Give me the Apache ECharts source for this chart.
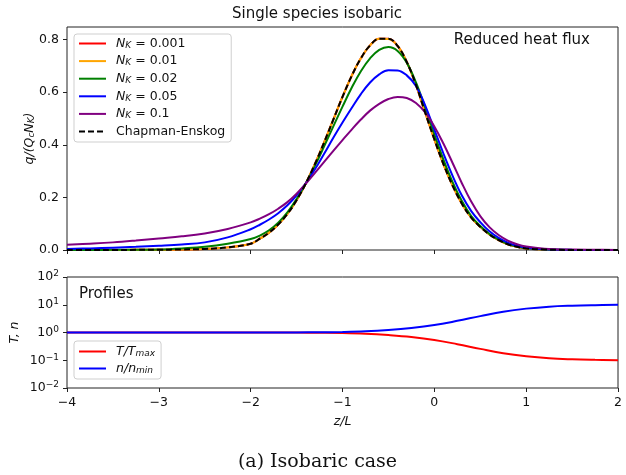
<!DOCTYPE html>
<html>
<head>
<meta charset="utf-8">
<script src="https://cdn.jsdelivr.net/npm/echarts@6/dist/echarts.min.js"></script>
<style>
  html, body { margin: 0; padding: 0; background: #fff; }
  #chart { width: 626px; height: 475px; }
</style>
</head>
<body>
<div id="chart"></div>
<script>
// Position along the domain (z/L) where the heat flux curves are sampled
const zFlux = [-4, -3.75, -3.5, -3.25, -3, -2.75, -2.5, -2.25,
  -2, -1.9, -1.8, -1.7, -1.6, -1.5, -1.4, -1.3, -1.2, -1.1, -1.0,
  -0.9, -0.8, -0.7, -0.6, -0.5, -0.4, -0.3, -0.2, -0.1, 0,
  0.1, 0.2, 0.3, 0.4, 0.5, 0.6, 0.7, 0.8, 0.9, 1.0,
  1.2, 1.5, 1.75, 2];

// Reduced heat flux q/(Qc NK) for each Knudsen number
const qNk0001 = [0, 0, 0.0002, 0.0005, 0.001, 0.002, 0.004, 0.010,
  0.024, 0.043, 0.066, 0.097, 0.137, 0.189, 0.253, 0.327, 0.409, 0.496, 0.582,
  0.662, 0.729, 0.778, 0.803, 0.803, 0.776, 0.715, 0.628, 0.523, 0.421,
  0.326, 0.244, 0.176, 0.124, 0.088, 0.059, 0.038, 0.022, 0.012, 0.006,
  0.002, 0.0003, 0.0001, 0];
const qNk001 = [0, 0, 0.0002, 0.0005, 0.001, 0.002, 0.004, 0.010,
  0.024, 0.043, 0.066, 0.097, 0.137, 0.189, 0.253, 0.327, 0.409, 0.496, 0.582,
  0.662, 0.729, 0.778, 0.803, 0.802, 0.776, 0.715, 0.628, 0.523, 0.421,
  0.326, 0.244, 0.176, 0.124, 0.088, 0.059, 0.038, 0.022, 0.012, 0.006,
  0.002, 0.0003, 0.0001, 0];
const qNk002 = [0, 0.0002, 0.0005, 0.001, 0.002, 0.006, 0.012, 0.024,
  0.042, 0.055, 0.075, 0.104, 0.143, 0.194, 0.253, 0.320, 0.394, 0.470, 0.545,
  0.617, 0.680, 0.729, 0.761, 0.772, 0.757, 0.712, 0.637, 0.542, 0.440,
  0.343, 0.257, 0.186, 0.130, 0.091, 0.061, 0.039, 0.023, 0.013, 0.007,
  0.002, 0.0004, 0.0001, 0];
const qNk005 = [0.004, 0.006, 0.009, 0.012, 0.016, 0.021, 0.029, 0.048,
  0.079, 0.096, 0.116, 0.140, 0.170, 0.208, 0.254, 0.307, 0.366, 0.427, 0.485,
  0.540, 0.593, 0.637, 0.668, 0.684, 0.683, 0.664, 0.624, 0.550, 0.458,
  0.366, 0.281, 0.207, 0.149, 0.106, 0.071, 0.046, 0.028, 0.016, 0.009,
  0.003, 0.0006, 0.0002, 0.0001];
const qNk01 = [0.020, 0.024, 0.029, 0.036, 0.044, 0.052, 0.063, 0.080,
  0.105, 0.119, 0.136, 0.157, 0.182, 0.214, 0.252, 0.293, 0.335, 0.377, 0.418,
  0.458, 0.496, 0.530, 0.556, 0.574, 0.582, 0.578, 0.559, 0.523, 0.470,
  0.404, 0.330, 0.254, 0.185, 0.129, 0.087, 0.057, 0.036, 0.022, 0.013,
  0.005, 0.0015, 0.0007, 0.0003];
const qChapmanEnskog = [0, 0, 0.0002, 0.0005, 0.001, 0.002, 0.004, 0.010,
  0.024, 0.043, 0.066, 0.097, 0.137, 0.189, 0.253, 0.327, 0.409, 0.496, 0.582,
  0.662, 0.729, 0.778, 0.803, 0.803, 0.776, 0.715, 0.628, 0.523, 0.421,
  0.326, 0.244, 0.176, 0.124, 0.088, 0.059, 0.038, 0.022, 0.012, 0.006,
  0.002, 0.0003, 0.0001, 0];

// Temperature and density profiles
const zProfile = [-4, -3, -2, -1.5, -1.25, -1, -0.75, -0.5, -0.25, 0,
  0.25, 0.5, 0.75, 1.0, 1.25, 1.5, 1.75, 2];
const tOverTmax = [1, 1, 0.999, 0.993, 0.982, 0.96, 0.905, 0.81, 0.69, 0.54,
  0.38, 0.257, 0.178, 0.138, 0.117, 0.108, 0.1035, 0.101];
const nOverNmin = [1, 1, 1.001, 1.007, 1.018, 1.045, 1.105, 1.23, 1.45, 1.85,
  2.63, 3.89, 5.62, 7.25, 8.55, 9.26, 9.66, 9.9];

// Tick positions
const zTicks = [-4, -3, -2, -1, 0, 1, 2];
const qTicks = [0, 0.2, 0.4, 0.6, 0.8];
const logTicks = [0.01, 0.1, 1, 10, 100];

const FONT = 'DejaVu Sans';
const INK = '#111';

const pairs = (xs, ys) => xs.map((x, i) => [x, ys[i]]);
const minus = v => (v < 0 ? '\u2212' + (-v) : String(v));

const mathRich = {
  r: { fontFamily: FONT, fontSize: 12.5, color: INK },
  it: { fontFamily: FONT, fontSize: 12.5, fontStyle: 'italic', color: INK },
  sub: { fontFamily: FONT, fontSize: 9, fontStyle: 'italic', color: INK, verticalAlign: 'bottom', padding: [4, 0, 0, 0] }
};

const legendLabels = {
  'nk0001': '{it|N}{sub|K}{r| = 0.001}',
  'nk001': '{it|N}{sub|K}{r| = 0.01}',
  'nk002': '{it|N}{sub|K}{r| = 0.02}',
  'nk005': '{it|N}{sub|K}{r| = 0.05}',
  'nk01': '{it|N}{sub|K}{r| = 0.1}',
  'ce': '{r|Chapman-Enskog}',
  'temp': '{it|T/T}{sub|max}',
  'dens': '{it|n/n}{sub|min}'
};

function fluxLine(name, data, color, extra) {
  return Object.assign({
    name: name,
    type: 'line',
    xAxisIndex: 0,
    yAxisIndex: 0,
    data: pairs(zFlux, data),
    symbol: 'none',
    smooth: 0.4,
    clip: true,
    lineStyle: { color: color, width: 2 },
    itemStyle: { color: color },
    emphasis: { disabled: true }
  }, extra || {});
}

function profileLine(name, data, color) {
  return {
    name: name,
    type: 'line',
    xAxisIndex: 1,
    yAxisIndex: 1,
    data: pairs(zProfile, data),
    symbol: 'none',
    smooth: 0.4,
    clip: true,
    lineStyle: { color: color, width: 2 },
    itemStyle: { color: color },
    emphasis: { disabled: true }
  };
}

const legendBase = {
  orient: 'vertical',
  itemWidth: 27,
  itemHeight: 14,
  backgroundColor: 'rgba(255,255,255,0.8)',
  borderColor: '#cfcfcf',
  borderWidth: 1,
  borderRadius: 3,
  selectedMode: false,
  itemStyle: { opacity: 0, borderWidth: 0 },
  formatter: name => legendLabels[name],
  textStyle: { fontFamily: FONT, fontSize: 12.5, color: INK, padding: [0, 0, 0, 5], rich: mathRich }
};

const tickStyle = { show: true, length: 4, lineStyle: { color: '#222' } };

const chart = echarts.init(document.getElementById('chart'), null, { renderer: 'canvas' });

chart.setOption({
  animation: false,
  backgroundColor: '#fff',
  grid: [
    { left: 67, top: 27, width: 551, height: 223, show: true, borderColor: '#222', borderWidth: 1, backgroundColor: 'transparent' },
    { left: 67, top: 277, width: 551, height: 111, show: true, borderColor: '#222', borderWidth: 1, backgroundColor: 'transparent' }
  ],
  xAxis: [
    {
      gridIndex: 0, type: 'value', min: -4, max: 2,
      axisLine: { show: false, onZero: false },
      axisTick: Object.assign({ customValues: zTicks }, tickStyle),
      axisLabel: { show: false },
      splitLine: { show: false }
    },
    {
      gridIndex: 1, type: 'value', min: -4, max: 2,
      axisLine: { show: false, onZero: false },
      axisTick: Object.assign({ customValues: zTicks }, tickStyle),
      axisLabel: { margin: 8, fontFamily: FONT, fontSize: 12.5, color: INK, customValues: zTicks, formatter: v => minus(v) },
      splitLine: { show: false },
      name: '{it|z/L}',
      nameLocation: 'middle',
      nameGap: 27,
      nameMoveOverlap: false,
      nameTextStyle: { rich: mathRich }
    }
  ],
  yAxis: [
    {
      gridIndex: 0, type: 'value', min: 0, max: 0.848,
      axisLine: { show: false, onZero: false },
      axisTick: Object.assign({ customValues: qTicks }, tickStyle),
      axisLabel: { margin: 8, fontFamily: FONT, fontSize: 12.5, color: INK, customValues: qTicks, formatter: v => v.toFixed(1) },
      splitLine: { show: false },
      name: '{it|q/(Q}{sub|c}{it|N}{sub|K}{it|)}',
      nameLocation: 'middle',
      nameGap: 31,
      nameMoveOverlap: false,
      nameRotate: 90,
      nameTextStyle: { rich: mathRich }
    },
    {
      gridIndex: 1, type: 'log', logBase: 10, min: 0.01, max: 100,
      axisLine: { show: false, onZero: false },
      axisTick: Object.assign({ customValues: logTicks }, tickStyle),
      axisLabel: {
        margin: 8, fontFamily: FONT, fontSize: 12.5, color: INK, customValues: logTicks,
        formatter: v => {
          const e = Math.round(Math.log10(v));
          return '{b|10}{sup|' + minus(e) + '}';
        },
        rich: {
          b: { fontFamily: FONT, fontSize: 12.5, color: INK },
          sup: { fontFamily: FONT, fontSize: 9, color: INK, verticalAlign: 'top', padding: [0, 0, 6, 0] }
        }
      },
      splitLine: { show: false },
      name: '{it|T, n}',
      nameLocation: 'middle',
      nameGap: 46,
      nameMoveOverlap: false,
      nameRotate: 90,
      nameTextStyle: { rich: mathRich }
    }
  ],
  legend: [
    Object.assign({}, legendBase, {
      left: 74, top: 34,
      padding: [3, 6, 4, 4],
      itemGap: 4.6,
      data: ['nk0001', 'nk001', 'nk002', 'nk005', 'nk01', 'ce']
    }),
    Object.assign({}, legendBase, {
      left: 74, top: 341,
      padding: [4, 6, 4, 4],
      itemGap: 4,
      data: ['temp', 'dens']
    })
  ],
  series: [
    fluxLine('nk0001', qNk0001, '#ff0000'),
    fluxLine('nk001', qNk001, '#ffa500'),
    fluxLine('nk002', qNk002, '#008000'),
    fluxLine('nk005', qNk005, '#0000ff'),
    fluxLine('nk01', qNk01, '#800080'),
    fluxLine('ce', qChapmanEnskog, '#000000', { lineStyle: { color: '#000', width: 2, type: [6, 3] } }),
    profileLine('temp', tOverTmax, '#ff0000'),
    profileLine('dens', nOverNmin, '#0000ff')
  ],
  graphic: [
    { type: 'text', x: 317, y: 14.5, style: { text: 'Single species isobaric', fontFamily: FONT, fontSize: 15, fill: INK, align: 'center', verticalAlign: 'middle' } },
    { type: 'text', x: 590, y: 40.5, style: { text: 'Reduced heat flux', fontFamily: FONT, fontSize: 15, fill: INK, align: 'right', verticalAlign: 'middle' } },
    { type: 'text', x: 79, y: 294.5, style: { text: 'Profiles', fontFamily: FONT, fontSize: 15, fill: INK, align: 'left', verticalAlign: 'middle' } },
    { type: 'text', x: 317.5, y: 462, style: { text: '(a) Isobaric case', fontFamily: 'DejaVu Serif', fontSize: 19, fill: INK, align: 'center', verticalAlign: 'middle' } }
  ]
});
</script>
</body>
</html>
